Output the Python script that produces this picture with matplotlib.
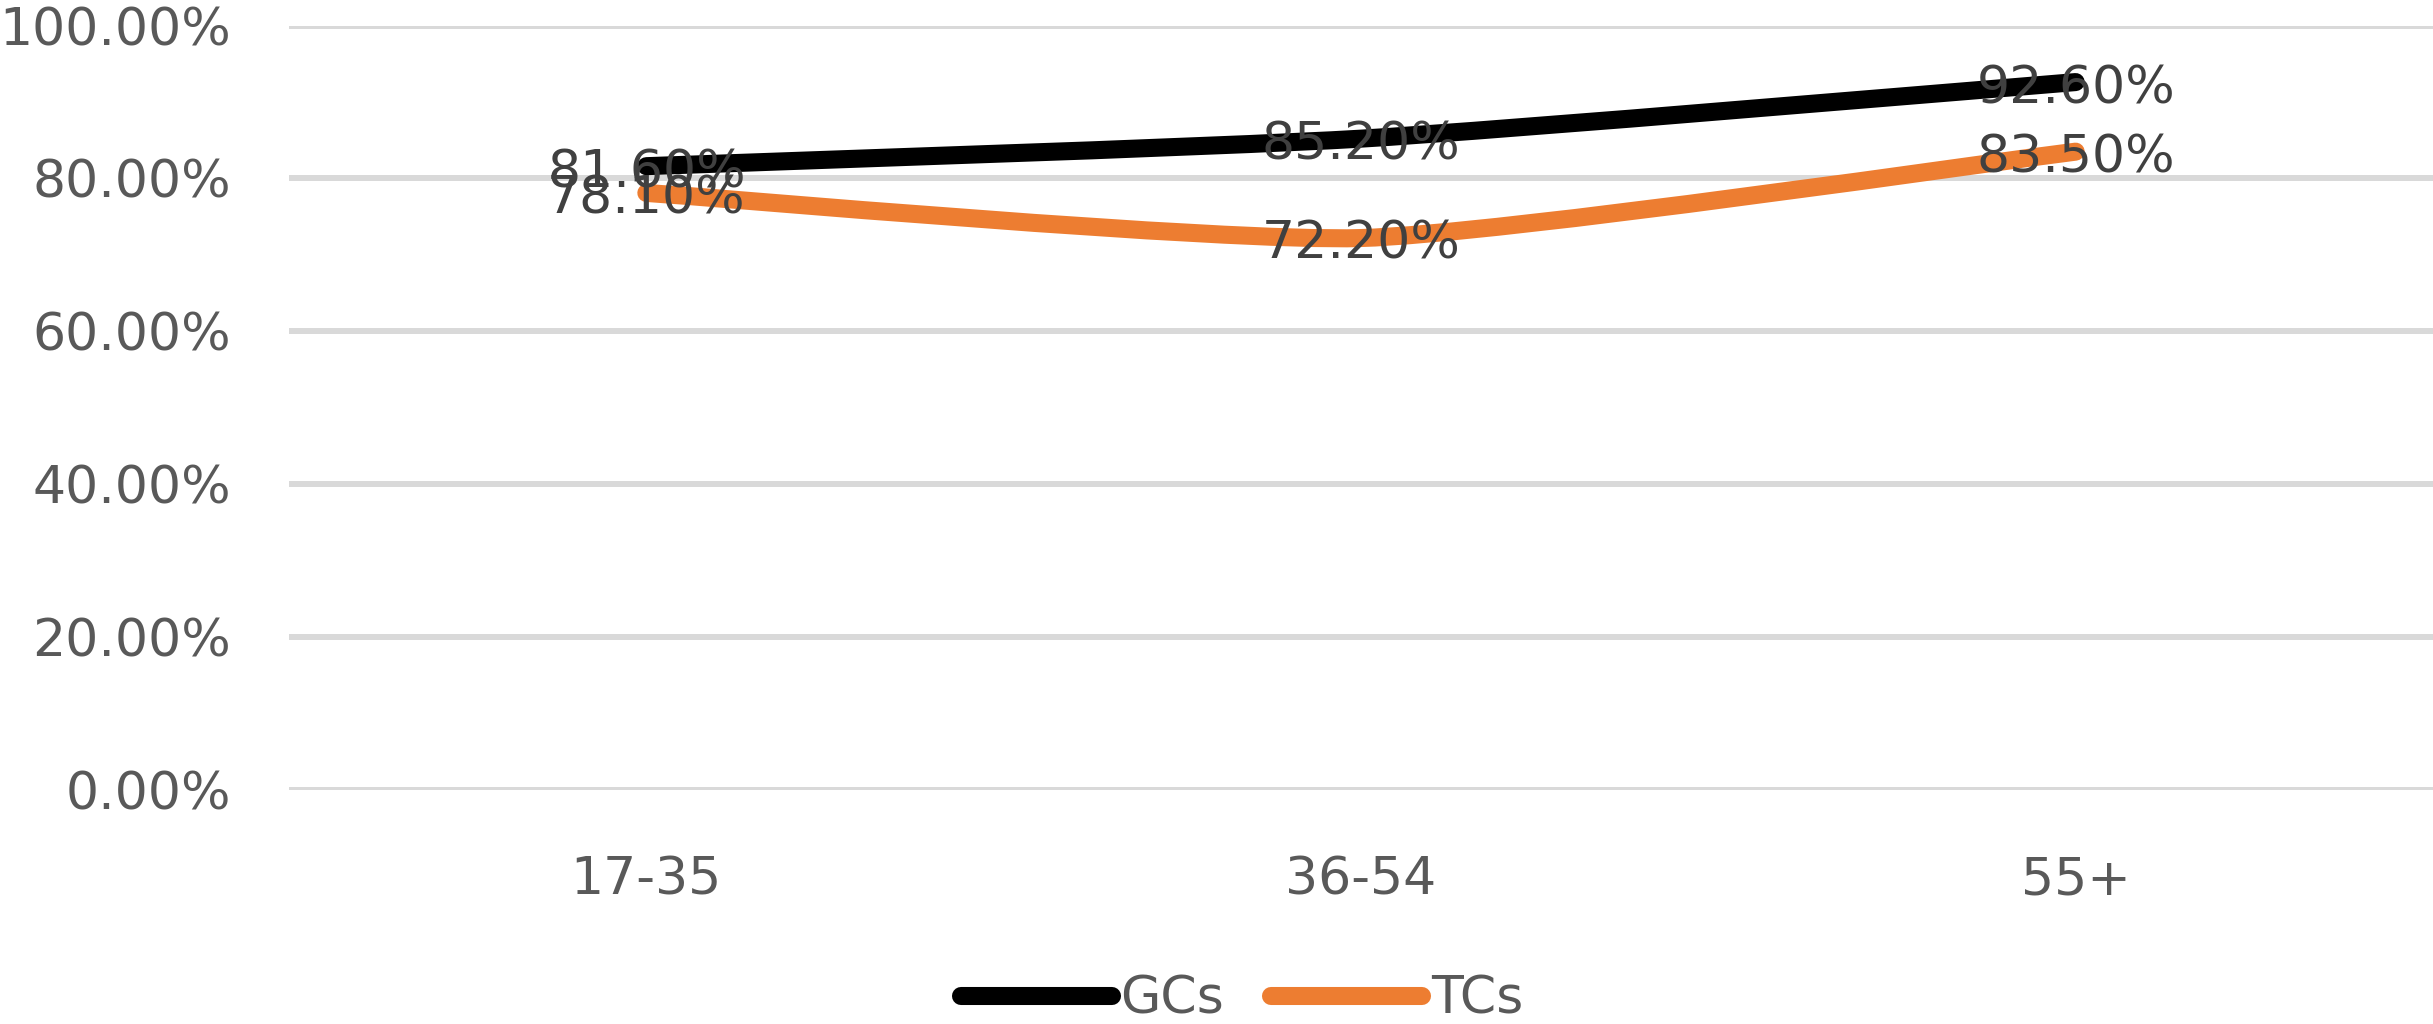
import matplotlib
matplotlib.use("Agg")
import matplotlib.pyplot as plt
from matplotlib.path import Path
from matplotlib.patches import PathPatch
from matplotlib.lines import Line2D
from matplotlib.ticker import FuncFormatter
import numpy as np

age_groups = ["17-35", "36-54", "55+"]
gcs = [0.816, 0.852, 0.926]
tcs = [0.781, 0.722, 0.835]
series_names = ["GCs", "TCs"]
series_colors = ["#000000", "#ED7D31"]

plt.rcParams['font.family'] = ['DejaVu Sans']
fs = 37.5


def smooth_path(xs, ys, t=0.1):
    # bezier segments through the points, like a "smoothed line" chart
    pts = np.column_stack([xs, ys])
    n = len(pts)
    verts = [pts[0]]
    codes = [Path.MOVETO]
    for i in range(n - 1):
        p_prev = pts[max(i - 1, 0)]
        p0 = pts[i]
        p1 = pts[i + 1]
        p_next = pts[min(i + 2, n - 1)]
        c1 = p0 + (p1 - p_prev) * t
        c2 = p1 - (p_next - p0) * t
        verts += [c1, c2, p1]
        codes += [Path.CURVE4] * 3
    return Path(verts, codes)


fig = plt.figure(figsize=(24.33, 10.24), dpi=100)
ax = fig.add_axes([289 / 2433, 1 - 790 / 1024, 1 - 289 / 2433, (790 - 25.5) / 1024])

x = np.arange(len(age_groups))
lw = 13
for vals, name, col in zip([gcs, tcs], series_names, series_colors):
    patch = PathPatch(smooth_path(x, vals), fill=False, edgecolor=col, lw=lw,
                      capstyle='round', joinstyle='round', zorder=3)
    ax.add_patch(patch)
    for xi, v in zip(x, vals):
        ax.annotate("%.2f%%" % (v * 100), (xi, v), xytext=(0, -5), textcoords='offset points',
                    ha='center', va='center', fontsize=fs, color='#404040', zorder=4)

ax.set_xlim(-0.5, len(age_groups) - 0.5)
ax.set_ylim(0, 1.0)
ax.set_yticks(np.arange(0, 1.01, 0.2))
ax.yaxis.set_major_formatter(FuncFormatter(lambda v, p: "%.2f%%" % (v * 100)))
ax.set_xticks(x)
ax.set_xticklabels(age_groups)
ax.tick_params(axis='both', length=0, labelsize=fs, labelcolor='#595959')
ax.tick_params(axis='y', pad=42)
ax.tick_params(axis='x', pad=47)
for s in ax.spines.values():
    s.set_visible(False)
ax.grid(axis='y', color='#D9D9D9', lw=4.3, zorder=0)
ax.set_axisbelow(True)

handles = [Line2D([0], [0], color=c, lw=lw, solid_capstyle='round') for c in series_colors]
fig.legend(handles, series_names, loc='center', bbox_to_anchor=(1242 / 2433, 1 - 1000 / 1024),
           ncol=2, frameon=False, fontsize=fs, labelcolor='#595959',
           handlelength=2.9, handletextpad=0.17, columnspacing=0.9, borderpad=0)

fig.savefig("out.png", dpi=100)
